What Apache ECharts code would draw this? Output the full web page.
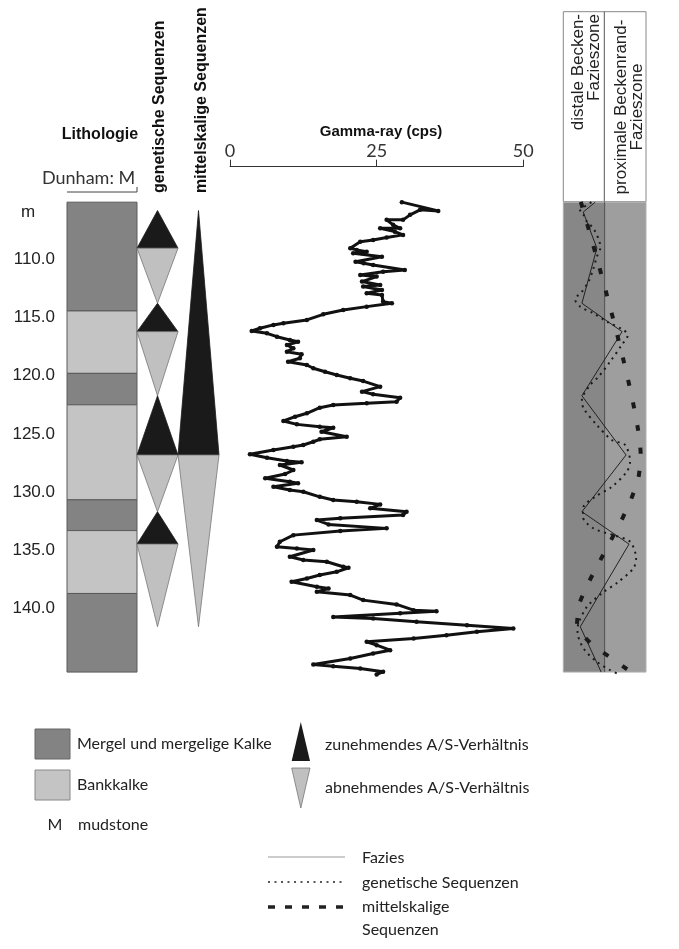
<!DOCTYPE html>
<html><head><meta charset="utf-8">
<script src="https://cdn.jsdelivr.net/npm/echarts@6/dist/echarts.min.js"></script>
<style>html,body{margin:0;padding:0;background:#fff}#c{width:679px;height:949px}</style>
</head><body><div id="c"></div>
<script>
// ---------- DATA ----------
const depthTicks = [110, 115, 120, 125, 130, 135, 140];
const lithoBounds = [105.1, 114.44, 119.8, 122.5, 130.66, 133.3, 138.7, 145.45];
const lithoTypes = ['Mergel', 'Bankkalk', 'Mergel', 'Bankkalk', 'Mergel', 'Bankkalk', 'Mergel'];

const genBounds = [105.82, 109.05, 113.78, 116.22, 121.72, 126.81, 131.68, 134.46, 141.56];
const genDirs = ['up', 'down', 'up', 'down', 'up', 'down', 'up', 'down'];
const midBounds = [105.82, 126.81, 141.56];
const midDirs = ['up', 'down'];

const gammaTicks = [0, 25, 50];
const gammaDepth = [105.10,105.85,105.76,106.19,106.62,106.62,107.05,107.34,107.34,107.63,107.91,108.14,108.34,108.49,109.06,109.20,109.35,109.48,109.78,110.21,110.34,110.49,110.92,111.07,111.35,111.49,111.92,112.21,112.35,112.64,112.92,113.07,113.64,113.78,114.07,114.36,114.73,115.21,115.50,115.64,115.93,116.16,116.36,116.65,116.93,117.08,117.36,117.65,117.94,118.16,118.50,118.80,119.08,119.36,119.66,119.94,120.22,120.46,120.94,121.37,121.60,121.89,122.23,122.37,122.52,122.75,123.23,123.52,123.89,124.18,124.38,124.47,124.81,125.24,125.46,125.67,125.95,126.10,126.38,126.75,127.04,127.33,127.44,127.67,128.10,128.44,128.81,129.11,129.24,129.54,129.82,129.97,130.40,130.68,130.82,131.05,131.39,131.68,131.97,132.25,132.40,132.77,133.11,133.34,133.69,134.26,134.69,134.83,134.97,135.55,135.83,135.98,136.41,136.49,136.84,137.12,137.41,137.70,138.13,138.27,138.56,138.84,139.27,139.64,140.13,140.22,140.39,140.71,140.84,141.13,141.42,141.70,141.99,142.28,142.56,142.85,143.14,143.57,143.85,144.28,144.79,144.94,145.14,145.43,145.65];
const gammaValue = [29.3,35.5,32.4,30.7,29.5,26.7,27.8,29.0,25.6,28.1,29.5,26.7,24.4,22.2,20.5,21.6,23.3,21.0,25.9,21.4,22.8,24.4,29.8,26.1,22.2,25.0,22.5,25.6,22.7,25.9,23.3,25.9,26.1,27.6,23.3,19.3,15.9,13.1,9.1,7.4,5.1,3.7,6.3,8.0,10.2,11.6,9.7,10.8,9.7,12.2,11.9,9.9,13.1,14.2,16.2,18.2,20.5,22.7,25.6,22.5,24.4,29.0,28.4,23.3,17.6,15.3,13.1,11.1,9.1,11.4,15.3,17.6,15.6,19.9,15.3,14.2,12.5,10.8,7.4,3.4,6.3,9.7,12.2,8.5,10.8,9.4,6.0,10.2,11.6,7.4,10.2,12.5,15.3,17.6,21.6,25.6,23.9,30.1,29.5,18.8,14.8,16.8,26.7,18.8,10.8,8.5,8.0,11.4,14.2,10.2,12.5,16.5,19.3,20.2,18.2,15.3,13.1,10.5,14.8,16.8,14.8,20.5,22.7,28.4,31.3,35.2,29.0,17.6,24.4,31.8,40.4,48.3,42.1,36.9,31.3,23.3,25.0,27.3,24.4,20.5,14.2,17.6,22.2,26.1,25.0];

const faciesZones = ['distale Becken-\nFazieszone', 'proximale Beckenrand-\nFazieszone'];
const faciesDepth = [105.1, 105.95, 109.05, 113.78, 116.22, 121.72, 126.81, 131.68, 134.46, 141.56, 145.45];
const faciesValue = [3.86, 2.41, 4.06, 2.25, 7.11, 2.25, 7.59, 2.25, 7.95, 2.05, 4.58];
const genSeqDepth = [105.1,105.9,106.2,106.77,107.2,107.63,108.49,109.06,109.78,110.77,111.92,112.78,113.2,113.5,114.07,114.64,115.36,116.07,116.5,117.36,118.8,120.09,120.8,122.09,122.8,124.24,125.52,125.95,127.39,128.25,129.54,130.4,131.25,132.11,133.11,133.69,134.26,135.69,136.55,137.7,138.69,139.85,141.27,141.99,143.42,144.57,145.28,145.56];
const genSeqValue = [3.4,2.0,2.45,2.85,3.45,3.86,4.38,4.46,4.06,3.65,3.05,2.25,1.65,1.45,2.05,3.65,5.27,7.27,7.8,7.07,5.66,4.25,3.25,2.25,2.45,4.06,5.87,7.47,8.07,7.67,5.87,3.86,2.45,2.37,3.65,6.06,8.07,8.8,8.47,6.66,4.66,2.85,1.84,1.72,2.45,4.06,5.66,6.47];
const midSeqDepth = [105.08, 126.87, 128.81, 130.68, 132.54, 134.26, 135.98, 137.7, 139.55, 141.48, 142.99, 144.14, 145.28];
const midSeqValue = [2.12, 9.36, 9.07, 8.16, 6.95, 5.66, 4.37, 3.1, 1.96, 1.65, 3.34, 5.58, 7.87];

// ---------- STYLE ----------
const DMIN = 105, DMAX = 145.7, GTOP = 201, GH = 474;
const C_MERGEL = '#838383', C_BANK = '#c4c4c4', C_BLACK = '#1a1a1a', C_GRAY = '#c0c0c0';
const THIN = 'Lato, "Open Sans", sans-serif';
const ARIAL = '"Liberation Sans", Arial, sans-serif';

function yAx(idx, show) {
  return {
    type: 'value', inverse: true, min: DMIN, max: DMAX, interval: 5, gridIndex: idx,
    axisLine: { show: false }, axisTick: { show: false }, splitLine: { show: false },
    axisLabel: show ? {
      show: true, margin: 12, fontFamily: ARIAL, fontSize: 17, color: '#222',
      formatter: v => depthTicks.includes(v) ? v.toFixed(1) : ''
    } : { show: false }
  };
}
function xHidden(idx, min, max) {
  return { type: 'value', gridIndex: idx, min, max, show: false };
}

const lithoData = lithoTypes.map((t, i) => [lithoBounds[i], lithoBounds[i + 1], t === 'Mergel' ? 0 : 1]);
const triData = [];
genDirs.forEach((d, i) => triData.push([genBounds[i], genBounds[i + 1], d === 'up' ? 1 : 0, 0]));
midDirs.forEach((d, i) => triData.push([midBounds[i], midBounds[i + 1], d === 'up' ? 1 : 0, 1]));

const chart = echarts.init(document.getElementById('c'), null, { renderer: 'canvas' });

const option = {
  animation: false,
  backgroundColor: '#fff',
  grid: [
    { left: 67, top: GTOP, width: 70, height: GH },
    { left: 137, top: GTOP, width: 82, height: GH },
    { left: 230, top: GTOP, width: 293.3, height: GH },
    { left: 563.3, top: GTOP, width: 82.7, height: GH }
  ],
  xAxis: [
    xHidden(0, 0, 1),
    xHidden(1, 0, 2),
    {
      type: 'value', gridIndex: 2, min: 0, max: 50, interval: 25, position: 'top', offset: 34.3,
      axisLine: { show: true, lineStyle: { color: '#333', width: 1 } },
      axisTick: { show: true, length: 7, lineStyle: { color: '#333' } },
      axisLabel: { margin: 7, fontFamily: THIN, fontSize: 18, color: '#333',
        formatter: v => gammaTicks.includes(v) ? String(v) : '' },
      splitLine: { show: false }
    },
    xHidden(3, 0, 10)
  ],
  yAxis: [yAx(0, true), yAx(1, false), yAx(2, false), yAx(3, false)],
  series: [
    {
      type: 'custom', xAxisIndex: 0, yAxisIndex: 0, data: lithoData,
      renderItem: (p, api) => {
        const a = api.coord([0, api.value(0)]), b = api.coord([1, api.value(1)]);
        return { type: 'rect', shape: { x: a[0], y: a[1], width: b[0] - a[0], height: b[1] - a[1] },
          style: { fill: api.value(2) === 0 ? C_MERGEL : C_BANK, stroke: '#5a5a5a', lineWidth: 1 } };
      }
    },
    {
      type: 'custom', xAxisIndex: 1, yAxisIndex: 1, data: triData,
      renderItem: (p, api) => {
        const col = api.value(3);
        const t = api.coord([col, api.value(0)]), b = api.coord([col + 1, api.value(1)]);
        const xl = t[0], xr = b[0], xc = (xl + xr) / 2, yt = t[1], yb = b[1];
        const up = api.value(2) === 1;
        const pts = up ? [[xc, yt], [xr, yb], [xl, yb]] : [[xl, yt], [xr, yt], [xc, yb]];
        return { type: 'polygon', shape: { points: pts },
          style: { fill: up ? C_BLACK : C_GRAY, stroke: up ? C_BLACK : '#777', lineWidth: 0.8 } };
      }
    },
    {
      type: 'line', xAxisIndex: 2, yAxisIndex: 2,
      data: gammaValue.map((v, i) => [v, gammaDepth[i]]),
      symbol: 'circle', symbolSize: 4.5, showSymbol: true,
      itemStyle: { color: '#111' },
      lineStyle: { color: '#111', width: 3 }
    },
    {
      type: 'custom', xAxisIndex: 3, yAxisIndex: 3,
      data: [[0, 5, lithoBounds[0], lithoBounds[lithoBounds.length - 1], 0], [5, 10, lithoBounds[0], lithoBounds[lithoBounds.length - 1], 1]],
      renderItem: (p, api) => {
        const a = api.coord([api.value(0), api.value(2)]), b = api.coord([api.value(1), api.value(3)]);
        return { type: 'rect', shape: { x: a[0], y: a[1], width: b[0] - a[0], height: b[1] - a[1] },
          style: { fill: api.value(4) === 0 ? '#878787' : '#9e9e9e', stroke: '#b0b0b0', lineWidth: 1 } };
      }
    },
    {
      type: 'line', xAxisIndex: 3, yAxisIndex: 3, symbol: 'none',
      data: [[5, lithoBounds[0]], [5, lithoBounds[lithoBounds.length - 1]]],
      lineStyle: { color: '#4a4a4a', width: 1 }
    },
    {
      type: 'line', xAxisIndex: 3, yAxisIndex: 3, symbol: 'none',
      data: faciesValue.map((v, i) => [v, faciesDepth[i]]),
      lineStyle: { color: '#222', width: 1 }
    },
    {
      type: 'line', xAxisIndex: 3, yAxisIndex: 3, symbol: 'none', smooth: 0.3,
      data: genSeqValue.map((v, i) => [v, genSeqDepth[i]]),
      lineStyle: { color: '#1a1a1a', width: 2, type: [2, 4.5] }
    },
    {
      type: 'line', xAxisIndex: 3, yAxisIndex: 3, symbol: 'none', smooth: 0.2,
      data: midSeqValue.map((v, i) => [v, midSeqDepth[i]]),
      lineStyle: { color: '#1a1a1a', width: 4, type: [6, 17] }
    }
  ],
  graphic: [
    { type: 'text', x: 100, y: 135, style: { text: 'Lithologie', font: 'bold 16px ' + ARIAL, fill: '#111', align: 'center', verticalAlign: 'middle' } },
    { type: 'text', x: 42, y: 178, style: { text: 'Dunham: M', font: '18px ' + THIN, fill: '#333', align: 'left', verticalAlign: 'middle' } },
    { type: 'polyline', shape: { points: [[67, 192], [137, 192], [137, 187]] }, style: { stroke: '#444', lineWidth: 1, fill: null } },
    { type: 'text', x: 28, y: 212, style: { text: 'm', font: '17px ' + ARIAL, fill: '#222', align: 'center', verticalAlign: 'middle' } },
    { type: 'text', x: 160, y: 193, rotation: Math.PI / 2, style: { text: 'genetische Sequenzen', font: 'bold 16px ' + ARIAL, fill: '#111', align: 'left', verticalAlign: 'middle' } },
    { type: 'text', x: 202, y: 193, rotation: Math.PI / 2, style: { text: 'mittelskalige Sequenzen', font: 'bold 16px ' + ARIAL, fill: '#111', align: 'left', verticalAlign: 'middle' } },
    { type: 'text', x: 381, y: 132, style: { text: 'Gamma-ray (cps)', font: 'bold 15px ' + ARIAL, fill: '#111', align: 'center', verticalAlign: 'middle' } },
    // facies header
    { type: 'rect', shape: { x: 563.3, y: 11.7, width: 82.7, height: 190 }, style: { fill: '#fff', stroke: '#888', lineWidth: 1 } },
    { type: 'line', shape: { x1: 604.3, y1: 11.7, x2: 604.3, y2: 201.7 }, style: { stroke: '#555', lineWidth: 1 } },
    { type: 'text', x: 586, y: 14, rotation: Math.PI / 2, style: { text: faciesZones[0], font: '17px ' + ARIAL, lineHeight: 16, fill: '#222', align: 'right', verticalAlign: 'middle' } },
    { type: 'text', x: 629, y: 107, rotation: Math.PI / 2, style: { text: faciesZones[1], font: '17px ' + ARIAL, lineHeight: 16, fill: '#222', align: 'center', verticalAlign: 'middle' } },
    // legend
    { type: 'rect', shape: { x: 35, y: 729, width: 35, height: 30 }, style: { fill: C_MERGEL, stroke: '#666', lineWidth: 1 } },
    { type: 'text', x: 77, y: 744, style: { text: 'Mergel und mergelige Kalke', font: '16px ' + THIN, fill: '#222', verticalAlign: 'middle' } },
    { type: 'rect', shape: { x: 35, y: 770, width: 35, height: 30 }, style: { fill: C_BANK, stroke: '#888', lineWidth: 1 } },
    { type: 'text', x: 77, y: 785, style: { text: 'Bankkalke', font: '16px ' + THIN, fill: '#222', verticalAlign: 'middle' } },
    { type: 'text', x: 55, y: 825, style: { text: 'M', font: '16px ' + THIN, fill: '#222', align: 'center', verticalAlign: 'middle' } },
    { type: 'text', x: 78, y: 825, style: { text: 'mudstone', font: '16px ' + THIN, fill: '#222', verticalAlign: 'middle' } },
    { type: 'polygon', shape: { points: [[300.8, 722], [310, 761], [291.7, 761]] }, style: { fill: C_BLACK } },
    { type: 'text', x: 325, y: 745, style: { text: 'zunehmendes A/S-Verhältnis', font: '16px ' + THIN, fill: '#222', verticalAlign: 'middle' } },
    { type: 'polygon', shape: { points: [[291.7, 768], [310, 768], [300.8, 808]] }, style: { fill: C_GRAY, stroke: '#777', lineWidth: 0.8 } },
    { type: 'text', x: 325, y: 788, style: { text: 'abnehmendes A/S-Verhältnis', font: '16px ' + THIN, fill: '#222', verticalAlign: 'middle' } },
    { type: 'line', shape: { x1: 268, y1: 857, x2: 345, y2: 857 }, style: { stroke: '#999', lineWidth: 1 } },
    { type: 'text', x: 362, y: 858, style: { text: 'Fazies', font: '16px ' + THIN, fill: '#222', verticalAlign: 'middle' } },
    { type: 'line', shape: { x1: 268, y1: 882, x2: 345, y2: 882 }, style: { stroke: '#222', lineWidth: 1.5, lineDash: [2, 4.5] } },
    { type: 'text', x: 362, y: 883, style: { text: 'genetische Sequenzen', font: '16px ' + THIN, fill: '#222', verticalAlign: 'middle' } },
    { type: 'line', shape: { x1: 268, y1: 907, x2: 345, y2: 907 }, style: { stroke: '#222', lineWidth: 3.5, lineDash: [7, 10] } },
    { type: 'text', x: 362, y: 907, style: { text: 'mittelskalige', font: '16px ' + THIN, fill: '#222', verticalAlign: 'middle' } },
    { type: 'text', x: 362, y: 930, style: { text: 'Sequenzen', font: '16px ' + THIN, fill: '#222', verticalAlign: 'middle' } }
  ]
};
chart.setOption(option);
</script></body></html>
